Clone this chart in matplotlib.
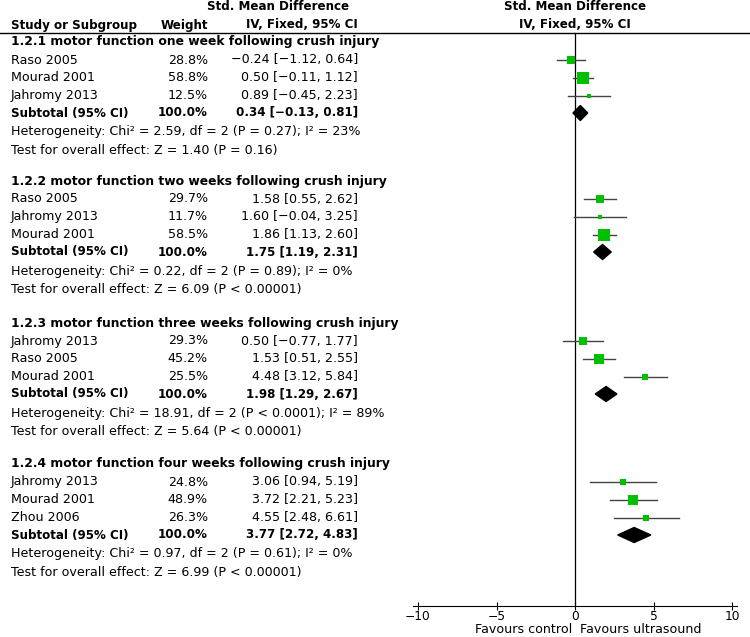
import matplotlib
matplotlib.use("Agg")
import matplotlib.pyplot as plt
from matplotlib.patches import Polygon

# data
groups = [
    "1.2.1 motor function one week following crush injury",
    "1.2.2 motor function two weeks following crush injury",
    "1.2.3 motor function three weeks following crush injury",
    "1.2.4 motor function four weeks following crush injury",
]
studies = [
    ["Raso 2005", "Mourad 2001", "Jahromy 2013"],
    ["Raso 2005", "Jahromy 2013", "Mourad 2001"],
    ["Jahromy 2013", "Raso 2005", "Mourad 2001"],
    ["Jahromy 2013", "Mourad 2001", "Zhou 2006"],
]
weights = [
    [28.8, 58.8, 12.5],
    [29.7, 11.7, 58.5],
    [29.3, 45.2, 25.5],
    [24.8, 48.9, 26.3],
]
smd = [
    [-0.24, 0.50, 0.89],
    [1.58, 1.60, 1.86],
    [0.50, 1.53, 4.48],
    [3.06, 3.72, 4.55],
]
ci_lo = [
    [-1.12, -0.11, -0.45],
    [0.55, -0.04, 1.13],
    [-0.77, 0.51, 3.12],
    [0.94, 2.21, 2.48],
]
ci_hi = [
    [0.64, 1.12, 2.23],
    [2.62, 3.25, 2.60],
    [1.77, 2.55, 5.84],
    [5.19, 5.23, 6.61],
]
sub_est = [0.34, 1.75, 1.98, 3.77]
sub_lo = [-0.13, 1.19, 1.29, 2.72]
sub_hi = [0.81, 2.31, 2.67, 4.83]
heterogeneity = [
    "Heterogeneity: Chi² = 2.59, df = 2 (P = 0.27); I² = 23%",
    "Heterogeneity: Chi² = 0.22, df = 2 (P = 0.89); I² = 0%",
    "Heterogeneity: Chi² = 18.91, df = 2 (P < 0.0001); I² = 89%",
    "Heterogeneity: Chi² = 0.97, df = 2 (P = 0.61); I² = 0%",
]
overall = [
    "Test for overall effect: Z = 1.40 (P = 0.16)",
    "Test for overall effect: Z = 6.09 (P < 0.00001)",
    "Test for overall effect: Z = 5.64 (P < 0.00001)",
    "Test for overall effect: Z = 6.99 (P < 0.00001)",
]
xticks = [-10, -5, 0, 5, 10]


def ci_text(e, lo, hi):
    return ("%.2f [%.2f, %.2f]" % (e, lo, hi)).replace("-", "\u2212")


W, H = 750, 637
fs = 9.1      # regular text
fb = 8.6      # bold text
green = "#00c000"

fig = plt.figure(figsize=(7.5, 6.37), dpi=100)

# text layer in pixel units
tx = fig.add_axes([0, 0, 1, 1])
tx.set_xlim(0, W)
tx.set_ylim(H, 0)
tx.axis("off")

# forest panel, same vertical scale
ax = fig.add_axes([418 / W, 0, 314 / W, 1])
ax.set_xlim(-10, 10)
ax.set_ylim(H, 0)
ax.patch.set_alpha(0)
for s in ["top", "left", "right"]:
    ax.spines[s].set_visible(False)
ax.spines["bottom"].set_position(("data", 606))
ax.spines["bottom"].set_bounds(-10.3, 10.3)
ax.spines["bottom"].set_linewidth(0.8)
ax.set_yticks([])
ax.set_xticks(xticks)
ax.set_xticklabels([str(t).replace("-", "\u2212") for t in xticks])
ax.tick_params(axis="x", direction="inout", length=6, width=0.8, pad=0, labelsize=8.8)

kw = dict(va="center")
L = 11

# header
tx.text(L, 25, "Study or Subgroup", fontweight="bold", fontsize=fb, ha="left", **kw)
tx.text(208, 25, "Weight", fontweight="bold", fontsize=fb, ha="right", **kw)
tx.text(278, 7, "Std. Mean Difference", fontweight="bold", fontsize=fb, ha="center", **kw)
tx.text(358, 25, "IV, Fixed, 95% CI", fontweight="bold", fontsize=fb, ha="right", **kw)
tx.text(575, 7, "Std. Mean Difference", fontweight="bold", fontsize=fb, ha="center", **kw)
tx.text(575, 25, "IV, Fixed, 95% CI", fontweight="bold", fontsize=fb, ha="center", **kw)
tx.plot([0, W], [32.5, 32.5], color="black", lw=1.0)

ax.plot([0, 0], [32.5, 606], color="black", lw=0.9, clip_on=False)

starts = [42, 181, 323, 464]
offs = [18, 35.5, 53.5]
for g in range(len(groups)):
    y0 = starts[g]
    tx.text(L, y0, groups[g], fontweight="bold", fontsize=8.9, ha="left", **kw)
    for i in range(len(studies[g])):
        y = y0 + offs[i]
        tx.text(L, y, studies[g][i], fontsize=fs, ha="left", **kw)
        tx.text(208, y, "%.1f%%" % weights[g][i], fontsize=fs, ha="right", **kw)
        tx.text(358, y, ci_text(smd[g][i], ci_lo[g][i], ci_hi[g][i]), fontsize=fs, ha="right", **kw)
        ax.plot([ci_lo[g][i], ci_hi[g][i]], [y, y], color="#444444", lw=1.0, zorder=2)
        side = 1.75 + 0.187 * weights[g][i]
        ax.plot(smd[g][i], y, marker="s", color=green, markersize=side * 0.72,
                markeredgewidth=0, zorder=3)
    ys = y0 + 71
    tx.text(L, ys, "Subtotal (95% CI)", fontweight="bold", fontsize=fb, ha="left", **kw)
    tx.text(208, ys, "100.0%", fontweight="bold", fontsize=fb, ha="right", **kw)
    tx.text(358, ys, ci_text(sub_est[g], sub_lo[g], sub_hi[g]), fontweight="bold",
            fontsize=fb, ha="right", **kw)
    ax.add_patch(Polygon([[sub_lo[g], ys], [sub_est[g], ys - 7.5],
                          [sub_hi[g], ys], [sub_est[g], ys + 7.5]],
                         closed=True, color="black", zorder=3))
    tx.text(L, y0 + 90, heterogeneity[g], fontsize=fs, ha="left", **kw)
    tx.text(L, y0 + 108.5, overall[g], fontsize=fs, ha="left", **kw)

tx.text(572, 629.5, "Favours control", fontsize=fs, ha="right", **kw)
tx.text(580, 629.5, "Favours ultrasound", fontsize=fs, ha="left", **kw)

fig.savefig("out.png", dpi=100)
